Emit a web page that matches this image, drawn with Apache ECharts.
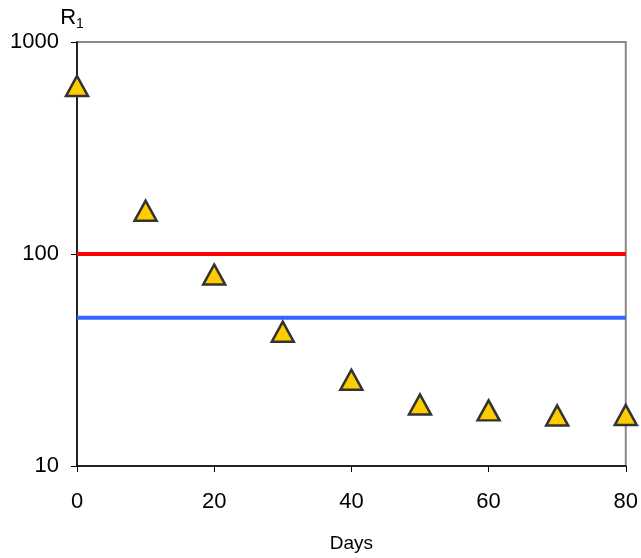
<!DOCTYPE html>
<html>
<head>
<meta charset="utf-8">
<script src="https://cdn.jsdelivr.net/npm/echarts@6/dist/echarts.min.js"></script>
<style>html,body{margin:0;padding:0;background:#fff}#c{width:641px;height:558px}</style>
</head>
<body>
<div id="c"></div>
<script>
const days = [0, 10, 20, 30, 40, 50, 60, 70, 80];
const r1 = [620, 160, 80, 43, 25.5, 19.5, 18.3, 17.3, 17.4];
const redLevel = 100;
const blueLevel = 50;
const xRange = [0, 80];
const yTicks = [10, 100, 1000];

const chart = echarts.init(document.getElementById('c'));
const font = '"Liberation Sans", Arial, sans-serif';
chart.setOption({
  animation: false,
  backgroundColor: '#fff',
  grid: { left: 77, right: 15, top: 42, bottom: 90, show: true, borderColor: '#888', borderWidth: 2 },
  xAxis: {
    type: 'value', min: xRange[0], max: xRange[1], interval: 20,
    name: 'Days', nameLocation: 'middle', nameGap: 68,
    nameTextStyle: { fontFamily: font, fontSize: 19, color: '#000' },
    axisLine: { lineStyle: { color: '#000', width: 1.5 } },
    axisTick: { inside: false, length: 6, lineStyle: { color: '#000' } },
    axisLabel: { fontFamily: font, fontSize: 22, color: '#000', margin: 25 },
    splitLine: { show: false }
  },
  yAxis: {
    type: 'log', logBase: 10, min: yTicks[0], max: yTicks[yTicks.length - 1],
    name: '{a|R}{b|1}', nameLocation: 'end', nameGap: 6,
    nameTextStyle: {
      align: 'center', padding: [0, 10, 0, 0],
      rich: {
        a: { fontFamily: font, fontSize: 22, color: '#000' },
        b: { fontFamily: font, fontSize: 14, color: '#000', verticalAlign: 'bottom', padding: [12, 0, 0, 0] }
      }
    },
    axisLine: { show: true, lineStyle: { color: '#000', width: 1.5 } },
    axisTick: { show: true, inside: false, length: 6, lineStyle: { color: '#000' } },
    axisLabel: { fontFamily: font, fontSize: 22, color: '#000', margin: 18, formatter: v => String(v) },
    splitLine: { show: false },
    minorTick: { show: false }
  },
  series: [
    {
      type: 'line', data: [[xRange[0], redLevel], [xRange[1], redLevel]],
      symbol: 'none', lineStyle: { color: '#FF0000', width: 4 }, z: 2
    },
    {
      type: 'line', data: [[xRange[0], blueLevel], [xRange[1], blueLevel]],
      symbol: 'none', lineStyle: { color: '#3366FF', width: 4 }, z: 2
    },
    {
      type: 'scatter', data: days.map((d, i) => [d, r1[i]]),
      symbol: 'triangle', symbolSize: [22, 20], clip: false,
      itemStyle: { color: '#FFCC00', borderColor: '#333', borderWidth: 2.5, opacity: 1 }, z: 5
    }
  ]
});
</script>
</body>
</html>
